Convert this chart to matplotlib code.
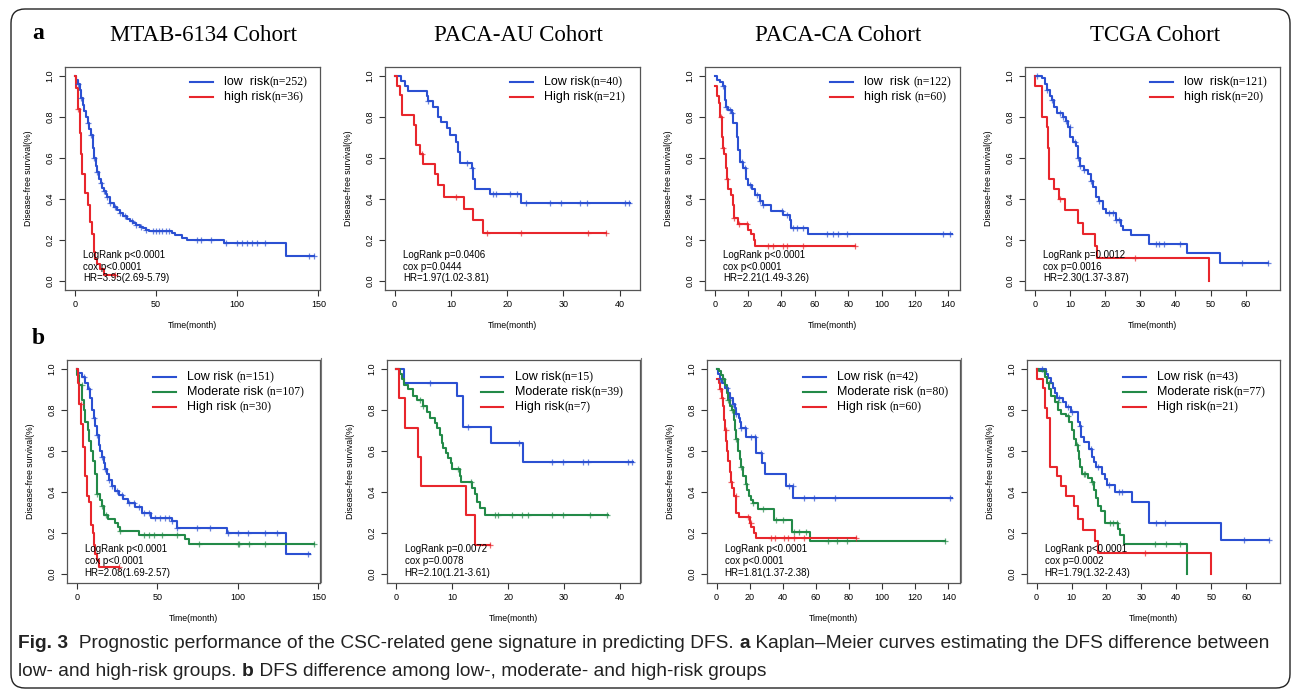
import numpy as np
import matplotlib
matplotlib.use('Agg')
import matplotlib.pyplot as plt
from matplotlib.patches import FancyBboxPatch
from matplotlib.lines import Line2D
from matplotlib.transforms import IdentityTransform

W, H = 1293, 691
BLUE = '#2b50d2'
RED = '#e8262c'
GREEN = '#238a48'
SANS = ['Liberation Sans', 'DejaVu Sans']
SERIF = ['Liberation Serif', 'DejaVu Serif']
CAP = ['Liberation Sans', 'DejaVu Sans']

cohorts = ['MTAB-6134 Cohort', 'PACA-AU Cohort', 'PACA-CA Cohort', 'TCGA Cohort']
xticks_list = [[0, 50, 100, 150], [0, 10, 20, 30, 40],
               [0, 20, 40, 60, 80, 100, 120, 140], [0, 10, 20, 30, 40, 50, 60]]
xlims = [(-6, 151), (-1.7, 43.6), (-5.8, 147), (-2.75, 69.7)]

# ---------- row a : two risk groups ----------
# MTAB-6134
a1_low_t = [0, 1, 2, 3, 4, 5, 6, 7, 8, 9, 10, 11, 12, 13, 14, 15, 16, 17, 18, 19, 20,
            22, 24, 26, 28, 30, 32, 34, 36, 38, 40, 42, 44, 46, 60, 62, 66, 69, 92, 130]
a1_low_s = [1.0, 0.98, 0.96, 0.93, 0.89, 0.86, 0.83, 0.8, 0.77, 0.74, 0.71, 0.65, 0.6, 0.56,
            0.53, 0.5, 0.48, 0.455, 0.44, 0.425, 0.41, 0.38, 0.36, 0.345, 0.33, 0.315, 0.305,
            0.295, 0.285, 0.275, 0.265, 0.26, 0.25, 0.245, 0.235, 0.225, 0.21, 0.2, 0.185, 0.123]
a1_low_end = 147
a1_low_cens = [2, 4, 8, 10, 12, 14, 16, 18, 20, 22, 25, 28, 31, 35, 38, 41, 44, 48, 50, 52,
               54, 56, 58, 75, 78, 84, 93, 100, 103, 106, 109, 112, 117, 144, 147]
a1_high_t = [0, 0.8, 1.8, 3.0, 3.6, 4.3, 6.4, 7.9, 9.1, 10.6, 11.6, 12.5, 13.7, 15.7, 17.8]
a1_high_s = [1, 0.94, 0.84, 0.72, 0.62, 0.52, 0.43, 0.37, 0.29, 0.23, 0.14, 0.11, 0.086, 0.057, 0.029]
a1_high_end = 25
a1_high_cens = [2, 25]

# PACA-AU
a2_low_t = [0, 1.2, 1.8, 2.4, 5.7, 6.0, 6.9, 7.8, 8.2, 9.3, 9.8, 11.0, 11.3, 11.6,
            13.7, 13.9, 14.3, 16.9, 22.5]
a2_low_s = [1.0, 0.975, 0.95, 0.925, 0.9, 0.875, 0.85, 0.8, 0.775, 0.745, 0.71, 0.68, 0.63,
            0.575, 0.55, 0.5, 0.45, 0.425, 0.38]
a2_low_end = 41.8
a2_low_cens = [6.0, 12.8, 13.7, 17.5, 18.0, 20.5, 21.7, 23.4, 27.6, 29.6, 33.0, 34.1, 41.0, 41.7]
a2_high_t = [0, 0.5, 0.95, 1.4, 3.4, 3.8, 4.5, 5.0, 7.2, 7.8, 8.8, 12.3, 14.0, 15.7]
a2_high_s = [1, 0.952, 0.905, 0.81, 0.762, 0.665, 0.62, 0.57, 0.52, 0.47, 0.41, 0.35, 0.30, 0.235]
a2_high_end = 37.5
a2_high_cens = [4.8, 11.0, 16.4, 22.5, 34.4, 37.5]

# PACA-CA
a3_low_t = [0, 1.6, 3.2, 5.2, 6.2, 6.8, 8.2, 10.2, 11.2, 13.2, 14.2, 15.2, 17.2, 18.8,
            20.2, 22.2, 24.2, 27.1, 29.1, 34, 41, 45, 46, 56]
a3_low_s = [1.0, 0.98, 0.97, 0.95, 0.88, 0.85, 0.835, 0.82, 0.77, 0.70, 0.64, 0.58, 0.55,
            0.50, 0.47, 0.45, 0.42, 0.39, 0.37, 0.34, 0.32, 0.30, 0.26, 0.23]
a3_low_end = 142
a3_low_cens = [5.2, 6.8, 9.2, 10.2, 16.2, 18.2, 21.2, 25.1, 27.1, 29.1, 40.1, 43.1, 47.1,
               49.1, 53.1, 67.1, 71.1, 74.1, 79, 137, 141]
a3_high_t = [0, 1.6, 2.8, 3.2, 4.2, 4.8, 5.6, 6.8, 7.6, 8.2, 9.6, 10.8, 11.6, 14.2, 20.2,
             22.0, 23.8, 24.2]
a3_high_s = [0.95, 0.9, 0.87, 0.8, 0.7, 0.65, 0.62, 0.55, 0.5, 0.45, 0.42, 0.37, 0.31, 0.28,
             0.25, 0.23, 0.2, 0.172]
a3_high_end = 84
a3_high_cens = [3.8, 4.8, 7.6, 11.6, 14.4, 19.2, 32.1, 35.1, 41.1, 43.1, 53.1, 84]

# TCGA
a4_low_t = [0, 2.0, 2.9, 3.6, 4.3, 4.8, 5.4, 6.2, 8.1, 9.0, 9.5, 10.1, 10.9, 11.6, 12.3, 13.0,
            13.9, 15.1, 16.1, 16.7, 17.3, 18.4, 19.3, 20.3, 23.1, 24.5, 25.0, 27.3, 32.5,
            43.3, 52.7]
a4_low_s = [1.0, 0.99, 0.96, 0.93, 0.9, 0.88, 0.85, 0.82, 0.8, 0.78, 0.75, 0.7, 0.68, 0.66,
            0.6, 0.56, 0.54, 0.52, 0.49, 0.46, 0.41, 0.39, 0.35, 0.33, 0.3, 0.27, 0.25, 0.225,
            0.18, 0.135, 0.09]
a4_low_end = 66.3
a4_low_cens = [0.75, 3.6, 4.8, 7.1, 8.1, 9.0, 10.0, 11.4, 12.3, 13.0, 13.9, 16.1, 18.4, 21.2,
               22.2, 23.1, 24.0, 34.4, 35.3, 36.7, 41.4, 58.8, 66.3]
a4_high_t = [0, 0.2, 2.2, 3.6, 3.9, 4.1, 5.4, 7.0, 8.5, 12.3, 13.7, 17.0, 17.7, 49.6]
a4_high_s = [1.0, 0.95, 0.8, 0.75, 0.65, 0.5, 0.45, 0.4, 0.345, 0.285, 0.23, 0.17, 0.115, 0.0]
a4_high_end = 49.6
a4_high_cens = [7.2, 28.5]

# ---------- row b : three risk groups ----------
b1_low_t = [0, 0.8, 3.3, 5.4, 7.0, 8.5, 9.5, 10.5, 11.5, 12.6, 13.6, 14.7, 15.7, 16.8, 17.8,
            18.8, 19.8, 21.9, 24.0, 26.0, 29.0, 32.0, 36.0, 40.5, 46.0, 59.0, 62.0, 93.0, 130.0]
b1_low_s = [1.0, 0.98, 0.96, 0.93, 0.9, 0.86, 0.8, 0.76, 0.72, 0.68, 0.63, 0.6, 0.57, 0.54,
            0.51, 0.49, 0.46, 0.43, 0.405, 0.385, 0.365, 0.345, 0.325, 0.3, 0.275, 0.26, 0.225,
            0.2, 0.1]
b1_low_end = 145
b1_low_cens = [4.3, 7.4, 10.5, 12.6, 15.7, 17.8, 19.8, 21.9, 25, 28.1, 32.2, 35.3, 38.4, 41.5,
               44.6, 48.8, 51.9, 55, 57, 59.1, 62.2, 74.6, 82.9, 94.2, 100.4, 106.6, 116.9,
               124.2, 143.8]
b1_mod_t = [0, 0.4, 1.6, 3.3, 4.3, 5.4, 7.0, 7.9, 8.7, 9.9, 11.2, 12.4, 14.7, 15.7, 16.7,
            19.4, 24.0, 25.6, 27.0, 38.4, 67.0, 69.4]
b1_mod_s = [1.0, 0.97, 0.92, 0.85, 0.8, 0.74, 0.7, 0.65, 0.6, 0.55, 0.49, 0.39, 0.36, 0.33,
            0.29, 0.27, 0.25, 0.23, 0.21, 0.19, 0.17, 0.145]
b1_mod_end = 147
b1_mod_cens = [3, 12.8, 16, 18.5, 27, 42, 45, 48, 53, 62, 76, 100, 101, 107, 117, 147]
b1_high_t = [0, 0.8, 1.6, 2.7, 3.7, 5.0, 6.4, 7.4, 9.0, 9.9, 10.5, 11.6, 12.6, 13.6]
b1_high_s = [1.0, 0.93, 0.83, 0.73, 0.62, 0.48, 0.38, 0.35, 0.24, 0.2, 0.14, 0.1, 0.07, 0.035]
b1_high_end = 26
b1_high_cens = [2.5, 26]

b2_low_t = [0, 1.3, 10.9, 11.9, 17.0, 22.6]
b2_low_s = [1.0, 0.933, 0.867, 0.717, 0.637, 0.546]
b2_low_end = 42.4
b2_low_cens = [6.0, 12.8, 22.0, 27.9, 29.9, 33.4, 34.3, 41.5, 42.1]
b2_mod_t = [0, 0.6, 0.9, 1.3, 2.1, 3.0, 3.6, 4.8, 5.4, 6.0, 6.9, 7.3, 7.8, 8.1, 8.4, 8.8,
            9.3, 9.7, 10.0, 11.3, 11.6, 13.6, 14.0, 14.4, 15.0, 15.8]
b2_mod_s = [1.0, 0.974, 0.95, 0.923, 0.9, 0.87, 0.846, 0.82, 0.79, 0.76, 0.735, 0.71, 0.68,
            0.64, 0.615, 0.59, 0.565, 0.54, 0.513, 0.48, 0.45, 0.42, 0.39, 0.35, 0.32, 0.29]
b2_mod_end = 37.9
b2_mod_cens = [4.2, 4.8, 11.0, 13.4, 17.6, 18.1, 20.6, 22.4, 23.6, 27.8, 29.9, 34.7, 37.7]
b2_high_t = [0, 0.5, 1.5, 3.8, 4.4, 12.4, 14.0]
b2_high_s = [1.0, 0.857, 0.714, 0.571, 0.428, 0.286, 0.143]
b2_high_end = 16.7
b2_high_cens = [16.7]

b3_low_t = [0, 1.0, 2.0, 3.0, 5.0, 7.0, 8.0, 10.0, 11.0, 11.6, 13.6, 14.0, 15.0, 18.0, 24.0,
            27.6, 29.0, 42.0, 46.4]
b3_low_s = [1.0, 0.976, 0.952, 0.93, 0.905, 0.88, 0.86, 0.83, 0.81, 0.78, 0.76, 0.74, 0.71,
            0.67, 0.59, 0.54, 0.49, 0.43, 0.37]
b3_low_end = 142
b3_low_cens = [2, 6, 8, 10, 11.6, 15, 17, 21, 23, 27, 43.6, 46, 53, 59, 71.6, 141]
b3_mod_t = [0, 1.6, 2.6, 4.0, 5.0, 6.0, 7.0, 8.0, 9.0, 10.4, 11.0, 12.0, 13.0, 14.0, 14.6,
            16.0, 17.6, 18.4, 19.6, 21.0, 22.0, 25.0, 34.6, 45.6, 56.4]
b3_mod_s = [1.0, 0.99, 0.97, 0.95, 0.92, 0.88, 0.85, 0.82, 0.8, 0.75, 0.7, 0.66, 0.6, 0.56,
            0.52, 0.48, 0.44, 0.41, 0.38, 0.36, 0.345, 0.315, 0.265, 0.205, 0.16]
b3_mod_end = 138
b3_mod_cens = [4, 7, 9, 12, 15, 18, 22, 28, 36, 40, 47, 50, 54, 67, 73, 79, 138]
b3_high_t = [0, 1.2, 2.0, 3.0, 3.6, 4.4, 5.0, 5.6, 6.4, 7.0, 8.0, 8.4, 9.6, 10.4, 11.6, 13.6,
             20.0, 21.0, 22.4, 23.6]
b3_high_s = [0.95, 0.93, 0.9, 0.86, 0.82, 0.75, 0.7, 0.65, 0.6, 0.55, 0.5, 0.45, 0.42, 0.38,
             0.3, 0.28, 0.25, 0.23, 0.2, 0.175]
b3_high_end = 84
b3_high_cens = [2, 3, 5.5, 8.5, 11.5, 19, 20.5, 33, 35, 41, 43, 47, 53, 84]

b4_low_t = [0, 2.8, 3.3, 4.2, 4.7, 5.2, 5.7, 7.5, 8.5, 9.9, 11.8, 12.3, 12.7, 13.7, 15.1, 16.0,
            16.5, 17.0, 18.7, 19.6, 20.3, 22.5, 27.3, 32.3, 52.8]
b4_low_s = [1.0, 0.977, 0.953, 0.93, 0.907, 0.884, 0.86, 0.837, 0.814, 0.79, 0.74, 0.72, 0.67,
            0.645, 0.61, 0.57, 0.545, 0.52, 0.49, 0.465, 0.435, 0.4, 0.35, 0.25, 0.165]
b4_low_end = 66.5
b4_low_cens = [1.5, 6.5, 9, 10, 12.5, 15.5, 17.5, 20.8, 23.5, 24.5, 34.3, 36.7, 59.5, 66.5]
b4_mod_t = [0, 0.75, 2.4, 3.0, 3.6, 4.2, 5.2, 6.1, 7.1, 8.5, 9.4, 10.2, 10.7, 11.3, 11.8,
            12.1, 12.5, 13.0, 14.6, 15.8, 16.5, 17.0, 17.7, 18.5, 19.5, 23.4, 23.8, 25.0, 43.2]
b4_mod_s = [1.0, 0.987, 0.96, 0.93, 0.9, 0.87, 0.84, 0.8, 0.78, 0.77, 0.74, 0.7, 0.66, 0.63,
            0.6, 0.56, 0.52, 0.49, 0.47, 0.45, 0.41, 0.37, 0.33, 0.31, 0.25, 0.22, 0.19, 0.145,
            0.0]
b4_mod_end = 43.2
b4_mod_cens = [2, 3.5, 6, 9, 11.5, 13.5, 14, 16, 21, 22, 23, 34, 37, 41]
b4_high_t = [0, 0.1, 1.7, 2.4, 3.0, 3.8, 5.7, 6.9, 8.3, 10.8, 11.8, 13.4, 16.8, 17.5, 49.8]
b4_high_s = [1.0, 0.952, 0.905, 0.81, 0.762, 0.52, 0.476, 0.43, 0.38, 0.33, 0.27, 0.215,
             0.16, 0.105, 0.0]
b4_high_end = 49.8
b4_high_cens = [31]

# legends and statistics
a_legend = [[('low  risk', '(n=252)'), ('high risk', '(n=36)')],
            [('Low risk', '(n=40)'), ('High risk', '(n=21)')],
            [('low  risk ', '(n=122)'), ('high risk ', '(n=60)')],
            [('low  risk', '(n=121)'), ('high risk', '(n=20)')]]
b_legend = [[('Low risk ', '(n=151)'), ('Moderate risk ', '(n=107)'), ('High risk ', '(n=30)')],
            [('Low risk', '(n=15)'), ('Moderate risk', '(n=39)'), ('High risk', '(n=7)')],
            [('Low risk ', '(n=42)'), ('Moderate risk ', '(n=80)'), ('High risk ', '(n=60)')],
            [('Low risk ', '(n=43)'), ('Moderate risk', '(n=77)'), ('High risk', '(n=21)')]]
a_stats = [['LogRank p<0.0001', 'cox p<0.0001', 'HR=3.95(2.69-5.79)'],
           ['LogRank p=0.0406', 'cox p=0.0444', 'HR=1.97(1.02-3.81)'],
           ['LogRank p<0.0001', 'cox p<0.0001', 'HR=2.21(1.49-3.26)'],
           ['LogRank p=0.0012', 'cox p=0.0016', 'HR=2.30(1.37-3.87)']]
b_stats = [['LogRank p<0.0001', 'cox p<0.0001', 'HR=2.08(1.69-2.57)'],
           ['LogRank p=0.0072', 'cox p=0.0078', 'HR=2.10(1.21-3.61)'],
           ['LogRank p<0.0001', 'cox p<0.0001', 'HR=1.81(1.37-2.38)'],
           ['LogRank p<0.0001', 'cox p=0.0002', 'HR=1.79(1.32-2.43)']]

a_curves = [
    [(a1_low_t, a1_low_s, a1_low_end, a1_low_cens, BLUE), (a1_high_t, a1_high_s, a1_high_end, a1_high_cens, RED)],
    [(a2_low_t, a2_low_s, a2_low_end, a2_low_cens, BLUE), (a2_high_t, a2_high_s, a2_high_end, a2_high_cens, RED)],
    [(a3_low_t, a3_low_s, a3_low_end, a3_low_cens, BLUE), (a3_high_t, a3_high_s, a3_high_end, a3_high_cens, RED)],
    [(a4_low_t, a4_low_s, a4_low_end, a4_low_cens, BLUE), (a4_high_t, a4_high_s, a4_high_end, a4_high_cens, RED)],
]
b_curves = [
    [(b1_low_t, b1_low_s, b1_low_end, b1_low_cens, BLUE), (b1_mod_t, b1_mod_s, b1_mod_end, b1_mod_cens, GREEN),
     (b1_high_t, b1_high_s, b1_high_end, b1_high_cens, RED)],
    [(b2_low_t, b2_low_s, b2_low_end, b2_low_cens, BLUE), (b2_mod_t, b2_mod_s, b2_mod_end, b2_mod_cens, GREEN),
     (b2_high_t, b2_high_s, b2_high_end, b2_high_cens, RED)],
    [(b3_low_t, b3_low_s, b3_low_end, b3_low_cens, BLUE), (b3_mod_t, b3_mod_s, b3_mod_end, b3_mod_cens, GREEN),
     (b3_high_t, b3_high_s, b3_high_end, b3_high_cens, RED)],
    [(b4_low_t, b4_low_s, b4_low_end, b4_low_cens, BLUE), (b4_mod_t, b4_mod_s, b4_mod_end, b4_mod_cens, GREEN),
     (b4_high_t, b4_high_s, b4_high_end, b4_high_cens, RED)],
]


def km(ax, t, s, end, cens, color):
    t = np.asarray(t, float)
    s = np.asarray(s, float)
    ax.step(np.append(t, end), np.append(s, s[-1]), where='post', color=color, lw=1.5, zorder=3)
    cens = np.asarray(cens, float)
    idx = np.searchsorted(t, cens, side='right') - 1
    ax.plot(cens, s[idx], ls='none', marker='+', ms=5, mew=0.9, color=color, alpha=0.7, zorder=4)


def style(ax, xt, xl):
    ax.set_xlim(*xl)
    ax.set_ylim(-0.043, 1.043)
    ax.set_xticks(xt)
    ax.set_yticks([0, 0.2, 0.4, 0.6, 0.8, 1.0])
    ax.set_yticklabels(['0.0', '0.2', '0.4', '0.6', '0.8', '1.0'])
    for sp in ax.spines.values():
        sp.set_color('#555555')
        sp.set_linewidth(0.9)
    ax.tick_params(length=4, width=0.8, color='#333333', pad=3.5, labelsize=6.5)
    ax.tick_params(axis='y', labelrotation=90)
    for lab in ax.get_yticklabels():
        lab.set_va('center')
        lab.set_family(SANS)
    for lab in ax.get_xticklabels():
        lab.set_family(SANS)
    ax.set_xlabel('Time(month)', fontsize=6.3, family=SANS, labelpad=8)
    ax.set_ylabel('Disease-free survival(%)', fontsize=6.3, family=SANS, labelpad=9)


def legend(ax, xl, xt, ys, entries, colors):
    for y, (lab, n), col in zip(ys, entries, colors):
        ax.plot([xl, xl + 0.09], [y, y], transform=ax.transAxes, color=col, lw=1.5, clip_on=False)
        t1 = ax.text(xt, y, lab, transform=ax.transAxes, fontsize=9, family=SANS, va='center')
        ax.annotate(n, xy=(1, 0), xycoords=t1, fontsize=8.5, family=SERIF, va='bottom', ha='left')


def stats(ax, ys, lines):
    for y, s in zip(ys, lines):
        ax.text(0.07, y, s, transform=ax.transAxes, fontsize=7, family=SANS, va='center')


fig = plt.figure(figsize=(W / 100, H / 100), dpi=100)
fig.patch.set_facecolor('white')

a_left = [65, 385, 705, 1025]
b_left = [67, 387, 707, 1027]
for i in range(4):
    ax = fig.add_axes([a_left[i] / W, 1 - 290 / H, 255 / W, 223 / H])
    for c in a_curves[i]:
        km(ax, *c)
    style(ax, xticks_list[i], xlims[i])
    legend(ax, 0.49, 0.624, [0.933, 0.865], a_legend[i], [BLUE, RED])
    stats(ax, [0.157, 0.103, 0.054], a_stats[i])

b_xl = [0.34, 0.37, 0.38, 0.38]
b_xt = [0.474, 0.506, 0.514, 0.514]
for i in range(4):
    ax = fig.add_axes([b_left[i] / W, 1 - 583 / H, 253 / W, 223 / H])
    for c in b_curves[i]:
        km(ax, *c)
    style(ax, xticks_list[i], xlims[i])
    legend(ax, b_xl[i], b_xt[i], [0.924, 0.857, 0.789], b_legend[i], [BLUE, GREEN, RED])
    stats(ax, [0.152, 0.098, 0.047], b_stats[i])

# overlay for titles, letters, caption, frame
ov = fig.add_axes([0, 0, 1, 1])
ov.set_xlim(0, W)
ov.set_ylim(H, 0)
ov.axis('off')

title_x = [203, 518, 838, 1155]
for x, name in zip(title_x, cohorts):
    ov.text(x, 35, name, fontsize=16.5, family=SERIF, ha='center', va='center')
ov.text(38, 33, 'a', fontsize=17, family=SERIF, weight='bold', ha='center', va='center')
ov.text(38, 338, 'b', fontsize=17, family=SERIF, weight='bold', ha='center', va='center')

for x in [321, 641, 961]:
    ov.add_line(Line2D([x, x], [358, 582], color='#777777', lw=0.8))

frame = FancyBboxPatch((11, 3), 1279, 679, boxstyle='round,pad=0,rounding_size=14',
                       transform=IdentityTransform(), fill=False, ec='#222222', lw=1.0)
fig.add_artist(frame)


def rich_line(x, y, parts, size):
    prev = ov.text(x, y, parts[0][0], fontsize=size, family=CAP, weight=parts[0][1],
                   va='bottom', ha='left', color='#222222')
    for txt, wt in parts[1:]:
        prev = ov.annotate(txt, xy=(1, 0), xycoords=prev, fontsize=size, family=CAP,
                           weight=wt, va='bottom', ha='left', color='#222222')


cap1 = [('Fig. 3', 'bold'),
        ('  Prognostic performance of the CSC-related gene signature in predicting DFS. ', 'normal'),
        ('a', 'bold'),
        (' Kaplan\u2013Meier curves estimating the DFS difference between', 'normal')]
cap2 = [('low- and high-risk groups. ', 'normal'), ('b', 'bold'),
        (' DFS difference among low-, moderate- and high-risk groups', 'normal')]
rich_line(18, 652, cap1, 13.8)
rich_line(18, 680, cap2, 13.8)

fig.savefig('out.png', dpi=100)
